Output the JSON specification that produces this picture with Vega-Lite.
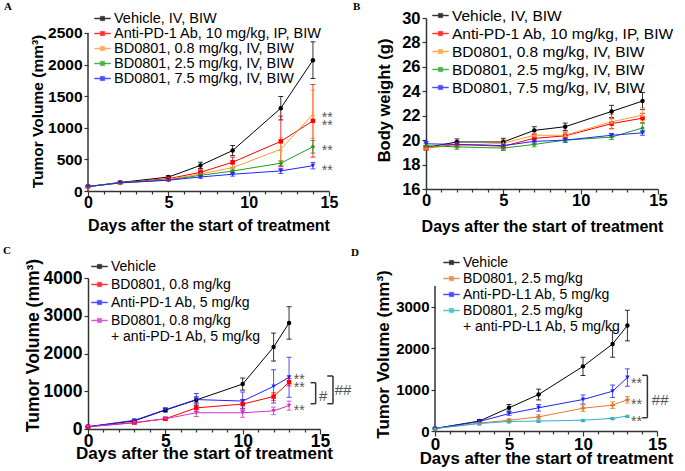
{
"$schema":"https://vega.github.io/schema/vega-lite/v6.json",
"background":"white",
"padding":{"left":3,"top":1,"right":0,"bottom":0},
"config":{
 "view":{"stroke":null},
 "font":"Liberation Sans",
 "axis":{"grid":false,"domainColor":"#333","tickColor":"#333","domainWidth":1.5,"tickWidth":1.2,"labelFont":"Liberation Sans","labelFontWeight":"bold","labelColor":"black","titleFont":"Liberation Sans","titleFontWeight":"bold","titleColor":"black","labelPadding":2,"tickSize":4},
 "legend":{"orient":"none","symbolType":"M-1,-0.07H1V0.07H-1ZM-0.28,-0.28H0.28V0.28H-0.28Z","symbolSize":256,"symbolStrokeWidth":0.4,"labelFont":"Liberation Sans","labelColor":"black","labelOffset":3,"labelLimit":500,"padding":0},
 "title":{"font":"Liberation Serif","fontSize":11,"fontWeight":"bold","color":"black","anchor":"start","frame":"group","offset":0}
},
"datasets":{
 "a":[
  {"g":"Vehicle, IV, BIW","day":0,"v":70,"sem":5},{"g":"Vehicle, IV, BIW","day":2,"v":135,"sem":10},{"g":"Vehicle, IV, BIW","day":5,"v":220,"sem":20},{"g":"Vehicle, IV, BIW","day":7,"v":405,"sem":50},{"g":"Vehicle, IV, BIW","day":9,"v":640,"sem":80},{"g":"Vehicle, IV, BIW","day":12,"v":1310,"sem":185},{"g":"Vehicle, IV, BIW","day":14,"v":2070,"sem":290},
  {"g":"Anti-PD-1 Ab, 10 mg/kg, IP, BIW","day":0,"v":70,"sem":5},{"g":"Anti-PD-1 Ab, 10 mg/kg, IP, BIW","day":2,"v":130,"sem":10},{"g":"Anti-PD-1 Ab, 10 mg/kg, IP, BIW","day":5,"v":195,"sem":20},{"g":"Anti-PD-1 Ab, 10 mg/kg, IP, BIW","day":7,"v":295,"sem":40},{"g":"Anti-PD-1 Ab, 10 mg/kg, IP, BIW","day":9,"v":455,"sem":80},{"g":"Anti-PD-1 Ab, 10 mg/kg, IP, BIW","day":12,"v":785,"sem":400},{"g":"Anti-PD-1 Ab, 10 mg/kg, IP, BIW","day":14,"v":1110,"sem":575},
  {"g":"BD0801, 0.8 mg/kg, IV, BIW","day":0,"v":70,"sem":5},{"g":"BD0801, 0.8 mg/kg, IV, BIW","day":2,"v":128,"sem":10},{"g":"BD0801, 0.8 mg/kg, IV, BIW","day":5,"v":180,"sem":15},{"g":"BD0801, 0.8 mg/kg, IV, BIW","day":7,"v":270,"sem":30},{"g":"BD0801, 0.8 mg/kg, IV, BIW","day":9,"v":370,"sem":50},{"g":"BD0801, 0.8 mg/kg, IV, BIW","day":12,"v":660,"sem":180},{"g":"BD0801, 0.8 mg/kg, IV, BIW","day":14,"v":1215,"sem":380},
  {"g":"BD0801, 2.5 mg/kg, IV, BIW","day":0,"v":70,"sem":5},{"g":"BD0801, 2.5 mg/kg, IV, BIW","day":2,"v":128,"sem":10},{"g":"BD0801, 2.5 mg/kg, IV, BIW","day":5,"v":175,"sem":15},{"g":"BD0801, 2.5 mg/kg, IV, BIW","day":7,"v":248,"sem":25},{"g":"BD0801, 2.5 mg/kg, IV, BIW","day":9,"v":316,"sem":35},{"g":"BD0801, 2.5 mg/kg, IV, BIW","day":12,"v":440,"sem":35},{"g":"BD0801, 2.5 mg/kg, IV, BIW","day":14,"v":700,"sem":100},
  {"g":"BD0801, 7.5 mg/kg, IV, BIW","day":0,"v":70,"sem":5},{"g":"BD0801, 7.5 mg/kg, IV, BIW","day":2,"v":130,"sem":10},{"g":"BD0801, 7.5 mg/kg, IV, BIW","day":5,"v":170,"sem":15},{"g":"BD0801, 7.5 mg/kg, IV, BIW","day":7,"v":222,"sem":20},{"g":"BD0801, 7.5 mg/kg, IV, BIW","day":9,"v":265,"sem":30},{"g":"BD0801, 7.5 mg/kg, IV, BIW","day":12,"v":318,"sem":40},{"g":"BD0801, 7.5 mg/kg, IV, BIW","day":14,"v":400,"sem":50}
 ],
 "b":[
  {"g":"Vehicle, IV, BIW","day":0,"v":19.4,"sem":0.15},{"g":"Vehicle, IV, BIW","day":2,"v":19.85,"sem":0.25},{"g":"Vehicle, IV, BIW","day":5,"v":19.85,"sem":0.3},{"g":"Vehicle, IV, BIW","day":7,"v":20.8,"sem":0.3},{"g":"Vehicle, IV, BIW","day":9,"v":21.1,"sem":0.3},{"g":"Vehicle, IV, BIW","day":12,"v":22.35,"sem":0.5},{"g":"Vehicle, IV, BIW","day":14,"v":23.2,"sem":0.7},
  {"g":"Anti-PD-1 Ab, 10 mg/kg, IP, BIW","day":0,"v":19.35,"sem":0.15},{"g":"Anti-PD-1 Ab, 10 mg/kg, IP, BIW","day":2,"v":19.65,"sem":0.2},{"g":"Anti-PD-1 Ab, 10 mg/kg, IP, BIW","day":5,"v":19.5,"sem":0.3},{"g":"Anti-PD-1 Ab, 10 mg/kg, IP, BIW","day":7,"v":20.15,"sem":0.3},{"g":"Anti-PD-1 Ab, 10 mg/kg, IP, BIW","day":9,"v":20.35,"sem":0.3},{"g":"Anti-PD-1 Ab, 10 mg/kg, IP, BIW","day":12,"v":21.35,"sem":0.4},{"g":"Anti-PD-1 Ab, 10 mg/kg, IP, BIW","day":14,"v":21.8,"sem":0.4},
  {"g":"BD0801, 0.8 mg/kg, IV, BIW","day":0,"v":19.4,"sem":0.2},{"g":"BD0801, 0.8 mg/kg, IV, BIW","day":2,"v":19.55,"sem":0.2},{"g":"BD0801, 0.8 mg/kg, IV, BIW","day":5,"v":19.75,"sem":0.3},{"g":"BD0801, 0.8 mg/kg, IV, BIW","day":7,"v":20.4,"sem":0.3},{"g":"BD0801, 0.8 mg/kg, IV, BIW","day":9,"v":20.4,"sem":0.3},{"g":"BD0801, 0.8 mg/kg, IV, BIW","day":12,"v":21.5,"sem":0.6},{"g":"BD0801, 0.8 mg/kg, IV, BIW","day":14,"v":22.05,"sem":0.6},
  {"g":"BD0801, 2.5 mg/kg, IV, BIW","day":0,"v":19.55,"sem":0.2},{"g":"BD0801, 2.5 mg/kg, IV, BIW","day":2,"v":19.45,"sem":0.2},{"g":"BD0801, 2.5 mg/kg, IV, BIW","day":5,"v":19.35,"sem":0.2},{"g":"BD0801, 2.5 mg/kg, IV, BIW","day":7,"v":19.65,"sem":0.2},{"g":"BD0801, 2.5 mg/kg, IV, BIW","day":9,"v":20.0,"sem":0.2},{"g":"BD0801, 2.5 mg/kg, IV, BIW","day":12,"v":20.25,"sem":0.2},{"g":"BD0801, 2.5 mg/kg, IV, BIW","day":14,"v":21.0,"sem":0.4},
  {"g":"BD0801, 7.5 mg/kg, IV, BIW","day":0,"v":19.7,"sem":0.2},{"g":"BD0801, 7.5 mg/kg, IV, BIW","day":2,"v":19.65,"sem":0.2},{"g":"BD0801, 7.5 mg/kg, IV, BIW","day":5,"v":19.55,"sem":0.2},{"g":"BD0801, 7.5 mg/kg, IV, BIW","day":7,"v":19.9,"sem":0.2},{"g":"BD0801, 7.5 mg/kg, IV, BIW","day":9,"v":20.0,"sem":0.15},{"g":"BD0801, 7.5 mg/kg, IV, BIW","day":12,"v":20.4,"sem":0.15},{"g":"BD0801, 7.5 mg/kg, IV, BIW","day":14,"v":20.6,"sem":0.2}
 ],
 "c":[
  {"g":"Vehicle","day":0,"v":60,"sem":10},{"g":"Vehicle","day":3,"v":215,"sem":30},{"g":"Vehicle","day":5,"v":500,"sem":50},{"g":"Vehicle","day":7,"v":770,"sem":80},{"g":"Vehicle","day":10,"v":1190,"sem":160},{"g":"Vehicle","day":12,"v":2170,"sem":370},{"g":"Vehicle","day":13,"v":2810,"sem":430},
  {"g":"BD0801, 0.8 mg/kg","day":0,"v":60,"sem":10},{"g":"BD0801, 0.8 mg/kg","day":3,"v":170,"sem":25},{"g":"BD0801, 0.8 mg/kg","day":5,"v":270,"sem":40},{"g":"BD0801, 0.8 mg/kg","day":7,"v":560,"sem":100},{"g":"BD0801, 0.8 mg/kg","day":10,"v":660,"sem":120},{"g":"BD0801, 0.8 mg/kg","day":12,"v":860,"sem":100},{"g":"BD0801, 0.8 mg/kg","day":13,"v":1240,"sem":100},
  {"g":"Anti-PD-1 Ab, 5 mg/kg","day":0,"v":60,"sem":10},{"g":"Anti-PD-1 Ab, 5 mg/kg","day":3,"v":230,"sem":30},{"g":"Anti-PD-1 Ab, 5 mg/kg","day":5,"v":510,"sem":50},{"g":"Anti-PD-1 Ab, 5 mg/kg","day":7,"v":780,"sem":160},{"g":"Anti-PD-1 Ab, 5 mg/kg","day":10,"v":740,"sem":240},{"g":"Anti-PD-1 Ab, 5 mg/kg","day":12,"v":1130,"sem":440},{"g":"Anti-PD-1 Ab, 5 mg/kg","day":13,"v":1370,"sem":530},
  {"g":"BD0801, 0.8 mg/kg|+ anti-PD-1 Ab, 5 mg/kg","day":0,"v":60,"sem":10},{"g":"BD0801, 0.8 mg/kg|+ anti-PD-1 Ab, 5 mg/kg","day":3,"v":165,"sem":25},{"g":"BD0801, 0.8 mg/kg|+ anti-PD-1 Ab, 5 mg/kg","day":5,"v":270,"sem":40},{"g":"BD0801, 0.8 mg/kg|+ anti-PD-1 Ab, 5 mg/kg","day":7,"v":430,"sem":100},{"g":"BD0801, 0.8 mg/kg|+ anti-PD-1 Ab, 5 mg/kg","day":10,"v":430,"sem":120},{"g":"BD0801, 0.8 mg/kg|+ anti-PD-1 Ab, 5 mg/kg","day":12,"v":480,"sem":100},{"g":"BD0801, 0.8 mg/kg|+ anti-PD-1 Ab, 5 mg/kg","day":13,"v":620,"sem":120}
 ],
 "d":[
  {"g":"Vehicle","day":0,"v":60,"sem":10},{"g":"Vehicle","day":3,"v":240,"sem":30},{"g":"Vehicle","day":5,"v":560,"sem":80},{"g":"Vehicle","day":7,"v":880,"sem":130},{"g":"Vehicle","day":10,"v":1560,"sem":220},{"g":"Vehicle","day":12,"v":2100,"sem":320},{"g":"Vehicle","day":13,"v":2545,"sem":370},
  {"g":"BD0801, 2.5 mg/kg","day":0,"v":60,"sem":10},{"g":"BD0801, 2.5 mg/kg","day":3,"v":190,"sem":20},{"g":"BD0801, 2.5 mg/kg","day":5,"v":260,"sem":30},{"g":"BD0801, 2.5 mg/kg","day":7,"v":340,"sem":50},{"g":"BD0801, 2.5 mg/kg","day":10,"v":550,"sem":80},{"g":"BD0801, 2.5 mg/kg","day":12,"v":625,"sem":80},{"g":"BD0801, 2.5 mg/kg","day":13,"v":755,"sem":80},
  {"g":"Anti-PD-L1 Ab, 5 mg/kg","day":0,"v":60,"sem":10},{"g":"Anti-PD-L1 Ab, 5 mg/kg","day":3,"v":230,"sem":25},{"g":"Anti-PD-L1 Ab, 5 mg/kg","day":5,"v":420,"sem":40},{"g":"Anti-PD-L1 Ab, 5 mg/kg","day":7,"v":560,"sem":80},{"g":"Anti-PD-L1 Ab, 5 mg/kg","day":10,"v":760,"sem":110},{"g":"Anti-PD-L1 Ab, 5 mg/kg","day":12,"v":960,"sem":150},{"g":"Anti-PD-L1 Ab, 5 mg/kg","day":13,"v":1290,"sem":210},
  {"g":"BD0801, 2.5 mg/kg|+ anti-PD-L1 Ab, 5 mg/kg","day":0,"v":60,"sem":10},{"g":"BD0801, 2.5 mg/kg|+ anti-PD-L1 Ab, 5 mg/kg","day":3,"v":180,"sem":15},{"g":"BD0801, 2.5 mg/kg|+ anti-PD-L1 Ab, 5 mg/kg","day":5,"v":230,"sem":20},{"g":"BD0801, 2.5 mg/kg|+ anti-PD-L1 Ab, 5 mg/kg","day":7,"v":240,"sem":20},{"g":"BD0801, 2.5 mg/kg|+ anti-PD-L1 Ab, 5 mg/kg","day":10,"v":260,"sem":20},{"g":"BD0801, 2.5 mg/kg|+ anti-PD-L1 Ab, 5 mg/kg","day":12,"v":305,"sem":20},{"g":"BD0801, 2.5 mg/kg|+ anti-PD-L1 Ab, 5 mg/kg","day":13,"v":360,"sem":20}
 ]
},
"spacing":9,
"resolve":{"scale":{"color":"independent"},"legend":{"color":"independent"}},
"vconcat":[
 {"bounds":"flush","spacing":97,"resolve":{"scale":{"color":"independent"},"legend":{"color":"independent"}},"hconcat":[
  {
   "width":241,"height":173,
   "title":{"text":"A","dx":-84,"dy":6},
   "encoding":{
    "x":{"field":"day","type":"quantitative","scale":{"domain":[0,15],"nice":false},"axis":{"values":[0,1,2,3,4,5,6,7,8,9,10,11,12,13,14,15],"labelExpr":"datum.value % 5 == 0 ? datum.label : ''","labelOverlap":false,"labelFlush":false,"tickSize":{"condition":{"test":"datum.value % 5 == 0","value":5},"value":3},"title":"Days after the start of treatment","labelFontSize":16,"titleFontSize":16,"labelPadding":-2,"titlePadding":7}},
    "y":{"field":"v","type":"quantitative","scale":{"domain":[0,2737],"nice":false,"zero":true},"axis":{"values":[0,500,1000,1500,2000,2500],"format":"d","domain":false,"title":"Tumor Volume (mm³)","titleY":93,"titlePadding":2,"labelFontSize":15.5,"titleFontSize":15.5}},
    "color":{"field":"g","type":"nominal","scale":{"domain":["Vehicle, IV, BIW","Anti-PD-1 Ab, 10 mg/kg, IP, BIW","BD0801, 0.8 mg/kg, IV, BIW","BD0801, 2.5 mg/kg, IV, BIW","BD0801, 7.5 mg/kg, IV, BIW"],"range":["#000000","#FF0000","#FF9933","#1E9E1E","#2222FF"]},"legend":{"title":null,"legendX":6,"legendY":-8,"labelFontSize":14.5,"rowPadding":-0.3}}
   },
   "layer":[
    {"data":{"values":[{"day":0,"v":0,"v2":2500}]},"mark":{"type":"rule","strokeWidth":1.5},"encoding":{"y2":{"field":"v2"},"color":{"value":"#333"}}},
    {"data":{"name":"a"},"mark":{"type":"errorbar","ticks":{"size":5},"thickness":1,"opacity":0.8},"encoding":{"yError":{"field":"sem"}}},
    {"data":{"name":"a"},"mark":{"type":"line","strokeWidth":1},"encoding":{}},
    {"data":{"name":"a"},"transform":[{"filter":{"field":"g","equal":"Vehicle, IV, BIW"}}],"mark":{"type":"point","filled":true,"size":20,"opacity":1,"shape":"circle"},"encoding":{}},
    {"data":{"name":"a"},"transform":[{"filter":{"field":"g","equal":"Anti-PD-1 Ab, 10 mg/kg, IP, BIW"}}],"mark":{"type":"point","filled":true,"size":20,"opacity":1,"shape":"square"},"encoding":{}},
    {"data":{"name":"a"},"transform":[{"filter":{"field":"g","equal":"BD0801, 0.8 mg/kg, IV, BIW"}}],"mark":{"type":"point","filled":true,"size":20,"opacity":1,"shape":"triangle-up"},"encoding":{}},
    {"data":{"name":"a"},"transform":[{"filter":{"field":"g","equal":"BD0801, 2.5 mg/kg, IV, BIW"}}],"mark":{"type":"point","filled":true,"size":20,"opacity":1,"shape":"diamond"},"encoding":{}},
    {"data":{"name":"a"},"transform":[{"filter":{"field":"g","equal":"BD0801, 7.5 mg/kg, IV, BIW"}}],"mark":{"type":"point","filled":true,"size":20,"opacity":1,"shape":"triangle-down"},"encoding":{}},
    {"data":{"values":[{"day":14.55,"v":1213,"t":"**"},{"day":14.55,"v":1097,"t":"**"},{"day":14.55,"v":696,"t":"**"},{"day":14.55,"v":385,"t":"**"}]},"mark":{"type":"text","align":"left","baseline":"middle","fontSize":14,"dy":4},"encoding":{"text":{"field":"t"},"color":{"value":"#555"}}}
   ]
  },
  {
   "width":232,"height":171,
   "title":{"text":"B","dx":-73,"dy":9},
   "encoding":{
    "x":{"field":"day","type":"quantitative","scale":{"domain":[0,15],"nice":false},"axis":{"values":[0,1,2,3,4,5,6,7,8,9,10,11,12,13,14,15],"labelExpr":"datum.value % 5 == 0 ? datum.label : ''","labelOverlap":false,"labelFlush":false,"tickSize":{"condition":{"test":"datum.value % 5 == 0","value":5},"value":3},"title":"Days after the start of treatment","labelFontSize":16.5,"titleFontSize":16,"labelPadding":-2,"titlePadding":10}},
    "y":{"field":"v","type":"quantitative","scale":{"domain":[16,30],"nice":false,"zero":false},"axis":{"values":[16,18,20,22,24,26,28,30],"title":"Body weight  (g)","titleY":82,"titlePadding":9,"labelFontSize":16.5,"titleFontSize":16.5}},
    "color":{"field":"g","type":"nominal","scale":{"domain":["Vehicle, IV, BIW","Anti-PD-1 Ab, 10 mg/kg, IP, BIW","BD0801, 0.8 mg/kg, IV, BIW","BD0801, 2.5 mg/kg, IV, BIW","BD0801, 7.5 mg/kg, IV, BIW"],"range":["#000000","#FF0000","#FF9933","#1E9E1E","#2222FF"]},"legend":{"title":null,"legendX":6,"legendY":-11,"labelFontSize":15.5,"rowPadding":1}}
   },
   "layer":[
    {"data":{"name":"b"},"mark":{"type":"errorbar","ticks":{"size":5},"thickness":1,"opacity":0.8},"encoding":{"yError":{"field":"sem"}}},
    {"data":{"name":"b"},"mark":{"type":"line","strokeWidth":1},"encoding":{}},
    {"data":{"name":"b"},"transform":[{"filter":{"field":"g","equal":"Vehicle, IV, BIW"}}],"mark":{"type":"point","filled":true,"size":20,"opacity":1,"shape":"circle"},"encoding":{}},
    {"data":{"name":"b"},"transform":[{"filter":{"field":"g","equal":"Anti-PD-1 Ab, 10 mg/kg, IP, BIW"}}],"mark":{"type":"point","filled":true,"size":20,"opacity":1,"shape":"square"},"encoding":{}},
    {"data":{"name":"b"},"transform":[{"filter":{"field":"g","equal":"BD0801, 0.8 mg/kg, IV, BIW"}}],"mark":{"type":"point","filled":true,"size":20,"opacity":1,"shape":"triangle-up"},"encoding":{}},
    {"data":{"name":"b"},"transform":[{"filter":{"field":"g","equal":"BD0801, 2.5 mg/kg, IV, BIW"}}],"mark":{"type":"point","filled":true,"size":20,"opacity":1,"shape":"diamond"},"encoding":{}},
    {"data":{"name":"b"},"transform":[{"filter":{"field":"g","equal":"BD0801, 7.5 mg/kg, IV, BIW"}}],"mark":{"type":"point","filled":true,"size":20,"opacity":1,"shape":"triangle-down"},"encoding":{}}
   ]
  }
 ]},
 {"bounds":"flush","spacing":115,"resolve":{"scale":{"color":"independent"},"legend":{"color":"independent"}},"hconcat":[
  {
   "width":232,"height":151,
   "title":{"text":"C","dx":-85,"dy":4},
   "encoding":{
    "x":{"field":"day","type":"quantitative","scale":{"domain":[0,15],"nice":false},"axis":{"values":[0,1,2,3,4,5,6,7,8,9,10,11,12,13,14,15],"labelExpr":"datum.value % 5 == 0 ? datum.label : ''","labelOverlap":false,"labelFlush":false,"tickSize":{"condition":{"test":"datum.value % 5 == 0","value":5},"value":3},"title":"Days after the start of treatment","labelFontSize":17.5,"titleFontSize":17,"labelPadding":-2,"titlePadding":-4}},
    "y":{"field":"v","type":"quantitative","scale":{"domain":[0,4000],"nice":false},"axis":{"values":[0,1000,2000,3000,4000],"format":"d","title":"Tumor Volume  (mm³)","titleY":67,"titlePadding":1,"labelFontSize":17.5,"titleFontSize":17.5}},
    "color":{"field":"g","type":"nominal","scale":{"domain":["Vehicle","BD0801, 0.8 mg/kg","Anti-PD-1 Ab, 5 mg/kg","BD0801, 0.8 mg/kg|+ anti-PD-1 Ab, 5 mg/kg"],"range":["#000000","#FF0000","#2222FF","#CC33CC"]},"legend":{"title":null,"legendX":3,"legendY":-20,"labelFontSize":14,"rowPadding":2,"labelExpr":"split(datum.label, '|')"}}
   },
   "layer":[
    {"data":{"name":"c"},"mark":{"type":"errorbar","ticks":{"size":5},"thickness":1,"opacity":0.8},"encoding":{"yError":{"field":"sem"}}},
    {"data":{"name":"c"},"mark":{"type":"line","strokeWidth":1},"encoding":{}},
    {"data":{"name":"c"},"transform":[{"filter":{"field":"g","equal":"Vehicle"}}],"mark":{"type":"point","filled":true,"size":20,"opacity":1,"shape":"circle"},"encoding":{}},
    {"data":{"name":"c"},"transform":[{"filter":{"field":"g","equal":"BD0801, 0.8 mg/kg"}}],"mark":{"type":"point","filled":true,"size":20,"opacity":1,"shape":"square"},"encoding":{}},
    {"data":{"name":"c"},"transform":[{"filter":{"field":"g","oneOf":["Anti-PD-1 Ab, 5 mg/kg","BD0801, 0.8 mg/kg|+ anti-PD-1 Ab, 5 mg/kg"]}}],"mark":{"type":"point","filled":true,"size":20,"opacity":1,"shape":"triangle-down"},"encoding":{}},
    {"data":{"values":[{"day":14.39,"v":1227,"day2":14.72,"v2":1227},{"day":14.72,"v":1227,"day2":14.72,"v2":670},{"day":14.39,"v":670,"day2":14.72,"v2":670},{"day":15.47,"v":1404,"day2":15.84,"v2":1404},{"day":15.84,"v":1404,"day2":15.84,"v2":670},{"day":15.47,"v":670,"day2":15.84,"v2":670}]},"mark":{"type":"rule","strokeWidth":1.5},"encoding":{"x2":{"field":"day2"},"y2":{"field":"v2"},"color":{"value":"#333"}}},
    {"data":{"values":[{"day":13.3,"v":1404,"t":"**"},{"day":13.3,"v":1183,"t":"**"},{"day":13.3,"v":583,"t":"**"}]},"mark":{"type":"text","align":"left","baseline":"middle","fontSize":14,"dy":4},"encoding":{"text":{"field":"t"},"color":{"value":"#555"}}},
    {"data":{"values":[{"day":14.93,"v":875,"t":"#"},{"day":15.95,"v":1030,"t":"##"}]},"mark":{"type":"text","align":"left","baseline":"middle","fontSize":15},"encoding":{"text":{"field":"t"},"color":{"value":"#555"}}}
   ]
  },
  {
   "width":222,"height":153,
   "title":{"text":"D","dx":-84,"dy":8},
   "encoding":{
    "x":{"field":"day","type":"quantitative","scale":{"domain":[0,15],"nice":false},"axis":{"values":[0,1,2,3,4,5,6,7,8,9,10,11,12,13,14,15],"labelExpr":"datum.value % 5 == 0 ? datum.label : ''","labelOverlap":false,"labelFlush":false,"tickSize":{"condition":{"test":"datum.value % 5 == 0","value":5},"value":3},"title":"Days after the start of treatment","labelFontSize":17,"titleFontSize":16.8,"labelPadding":0,"titlePadding":-2}},
    "y":{"field":"v","type":"quantitative","scale":{"domain":[0,3693],"nice":false},"axis":{"values":[0,1000,2000,3000],"format":"d","domain":false,"title":"Tumor Volume  (mm³)","titleY":76,"titlePadding":3,"labelFontSize":15,"titleFontSize":17}},
    "color":{"field":"g","type":"nominal","scale":{"domain":["Vehicle","BD0801, 2.5 mg/kg","Anti-PD-L1 Ab, 5 mg/kg","BD0801, 2.5 mg/kg|+ anti-PD-L1 Ab, 5 mg/kg"],"range":["#000000","#E07A30","#2222FF","#30B0C0"]},"legend":{"title":null,"legendX":8,"legendY":-24,"labelFontSize":14,"rowPadding":-0.5,"labelExpr":"split(datum.label, '|')"}}
   },
   "layer":[
    {"data":{"values":[{"day":0,"v":0,"v2":3500}]},"mark":{"type":"rule","strokeWidth":1.5},"encoding":{"y2":{"field":"v2"},"color":{"value":"#333"}}},
    {"data":{"name":"d"},"mark":{"type":"errorbar","ticks":{"size":5},"thickness":1,"opacity":0.8},"encoding":{"yError":{"field":"sem"}}},
    {"data":{"name":"d"},"mark":{"type":"line","strokeWidth":1},"encoding":{}},
    {"data":{"name":"d"},"transform":[{"filter":{"field":"g","equal":"Vehicle"}}],"mark":{"type":"point","filled":true,"size":20,"opacity":1,"shape":"circle"},"encoding":{}},
    {"data":{"name":"d"},"transform":[{"filter":{"field":"g","equal":"BD0801, 2.5 mg/kg"}}],"mark":{"type":"point","filled":true,"size":22,"opacity":1,"shape":"cross"},"encoding":{}},
    {"data":{"name":"d"},"transform":[{"filter":{"field":"g","equal":"Anti-PD-L1 Ab, 5 mg/kg"}}],"mark":{"type":"point","filled":true,"size":20,"opacity":1,"shape":"triangle-down"},"encoding":{}},
    {"data":{"name":"d"},"transform":[{"filter":{"field":"g","equal":"BD0801, 2.5 mg/kg|+ anti-PD-L1 Ab, 5 mg/kg"}}],"mark":{"type":"point","filled":true,"size":20,"opacity":1,"shape":"triangle-up"},"encoding":{}},
    {"data":{"values":[{"day":14.0,"v":1344,"day2":14.35,"v2":1344},{"day":14.35,"v":1344,"day2":14.35,"v2":320},{"day":14.0,"v":320,"day2":14.35,"v2":320}]},"mark":{"type":"rule","strokeWidth":1.5},"encoding":{"x2":{"field":"day2"},"y2":{"field":"v2"},"color":{"value":"#333"}}},
    {"data":{"values":[{"day":13.24,"v":1240,"t":"**"},{"day":13.24,"v":720,"t":"**"},{"day":13.24,"v":320,"t":"**"}]},"mark":{"type":"text","align":"left","baseline":"middle","fontSize":14,"dy":4},"encoding":{"text":{"field":"t"},"color":{"value":"#555"}}},
    {"data":{"values":[{"day":14.65,"v":744,"t":"##"}]},"mark":{"type":"text","align":"left","baseline":"middle","fontSize":15},"encoding":{"text":{"field":"t"},"color":{"value":"#555"}}}
   ]
  }
 ]}
]
}
